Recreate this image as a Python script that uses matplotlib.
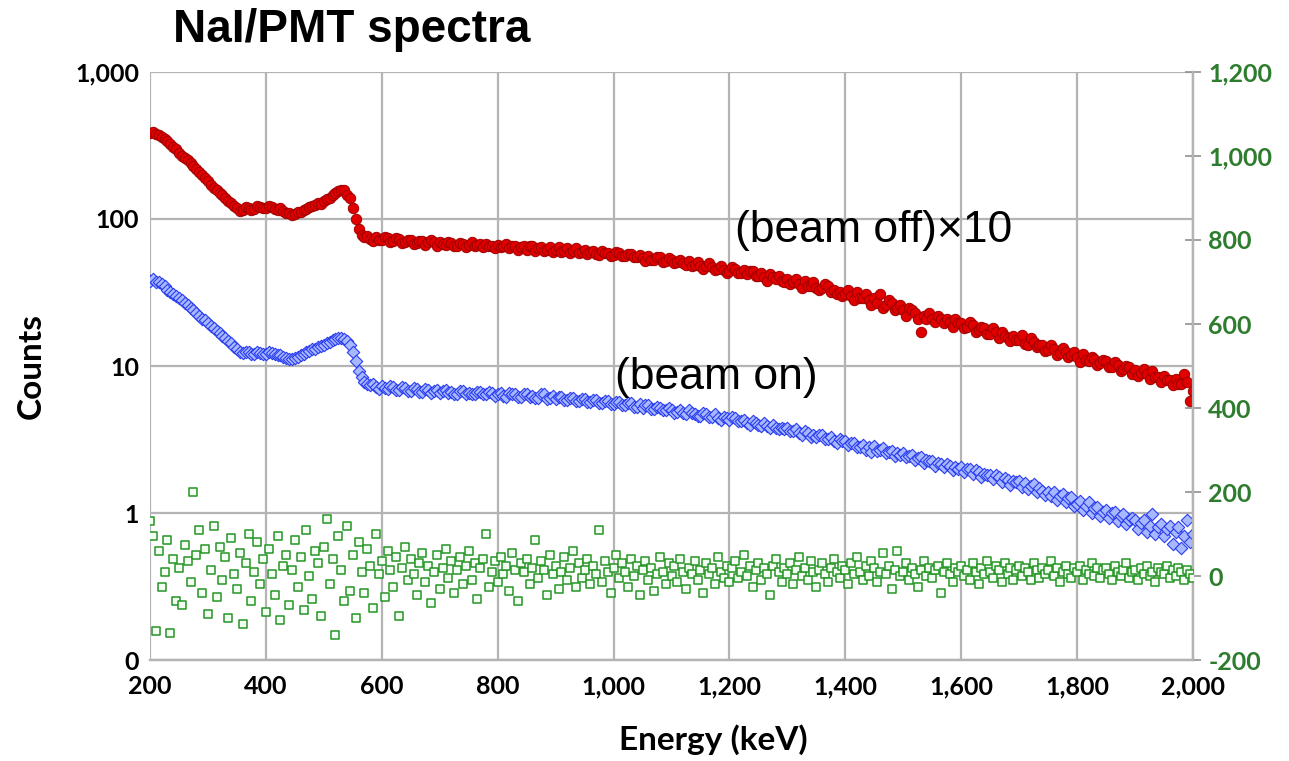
import numpy as np
import matplotlib
matplotlib.use('Agg')
import matplotlib.pyplot as plt
from matplotlib.ticker import FixedLocator, FixedFormatter, NullLocator

# energy grid (5 keV bins) shared by all three series
energy = np.arange(200, 2001, 5)

# (beam off) x 10, counts
beam_off_x10 = [
    385, 390, 378, 372, 362, 352, 340, 326, 310, 298,
    283, 270, 258, 250, 240, 228, 218, 208, 198, 190,
    180, 171, 163, 157, 150, 145, 140, 133, 128, 122,
    118, 114, 115, 120, 119, 116, 117, 122, 121, 118,
    119, 123, 120, 117, 116, 119, 113, 110, 109, 106,
    108, 111, 112, 115, 117, 120, 122, 125, 128, 126,
    133, 136, 140, 145, 150, 154, 157, 158, 146, 138,
    118, 100, 86, 78, 75, 77, 73, 71, 76, 72,
    72, 75, 74, 70, 71, 74, 73, 69, 70, 72,
    72, 68, 69, 71, 71, 67, 70, 72, 70, 66,
    70, 68, 67, 70, 69, 65, 66, 69, 68, 64,
    67, 70, 65, 67, 68, 64, 68, 65, 66, 63,
    67, 64, 65, 68, 63, 66, 66, 62, 64, 65,
    62, 65, 65, 61, 63, 64, 61, 62, 64, 60,
    62, 64, 60, 61, 63, 59, 61, 63, 59, 60,
    62, 58, 60, 61, 58, 57, 61, 59, 59, 56,
    57, 60, 59, 56, 56, 58, 58, 55, 55, 57,
    54, 52, 56, 53, 53, 55, 55, 51, 52, 54,
    53, 50, 51, 53, 50, 49, 52, 48, 49, 51,
    48, 46, 48, 50, 47, 45, 46, 48, 45, 43,
    44, 47, 46, 43, 43, 45, 42, 44, 44, 41,
    41, 43, 40, 38, 42, 40, 39, 41, 38, 37,
    39, 36, 37, 39, 36, 34, 38, 35, 35, 37,
    34, 33, 34, 36, 35, 32, 33, 31, 32, 30,
    31, 33, 30, 28, 32, 29, 29, 31, 28, 26,
    29, 27, 31, 25, 26, 28, 27, 24, 25, 26,
    24, 22, 25, 24, 23, 21, 17, 22, 21, 23,
    21, 20, 22, 21, 19.5, 21, 20, 18.5, 21, 19.5,
    19.5, 18, 18.5, 20, 19, 17, 17.5, 18.5, 18, 16.5,
    16.5, 18, 17, 15.5, 17, 16, 15.5, 14.8, 16, 15,
    15, 16.2, 14.2, 13.8, 15.5, 14.5, 13.5, 14, 13.8, 12.6,
    12.8, 14, 13, 11.8, 12.2, 13.2, 12.5, 11.6, 11.8, 12.4,
    11.5, 10.6, 12, 11, 10.8, 11.6, 11.2, 10.2, 10.5, 11,
    10.8, 9.8, 9.8, 10.6, 10.2, 9.2, 9.5, 10, 9.8, 8.8,
    9.4, 8.6, 9, 9.6, 8.8, 8.2, 9.2, 8.4, 8.4, 7.8,
    8.6, 8, 8, 7.4, 8.2, 7.6, 7.6, 8.8, 7.8, 5.8,
    6.8,
]

# (beam on), counts
beam_on = [
    38, 39, 37.5, 37, 36, 35, 33, 32, 31, 30,
    29, 28, 27, 26, 25, 24, 23, 22, 21, 20.5,
    19.5, 18.8, 18, 17.3, 16.7, 16, 15.5, 14.8, 14.3, 13.5,
    13, 12.4, 12.2, 12.5, 12.4, 12.1, 12, 12.4, 12.3, 12,
    12.1, 12.4, 12.3, 12, 11.8, 11.9, 11.6, 11.3, 11.2, 11.1,
    11.4, 11.6, 11.9, 12.1, 12.4, 12.7, 13, 13.1, 13.4, 13.7,
    14, 14.3, 14.6, 15, 15.3, 15.6, 15.6, 15.2, 14.8, 13.8,
    12.5, 10.8, 9.3, 8.4, 7.8, 7.5, 7.4, 7.6, 7.2, 7.0,
    7.3, 7.1, 7.0, 7.3, 7.2, 6.9, 6.9, 7.2, 7.1, 6.8,
    6.8, 7.1, 7.0, 6.7, 6.7, 7.0, 6.9, 6.6, 6.8, 6.9,
    6.6, 6.8, 6.9, 6.6, 6.7, 6.5, 6.5, 6.8, 6.8, 6.5,
    6.6, 6.4, 6.4, 6.7, 6.7, 6.4, 6.5, 6.7, 6.6, 6.3,
    6.5, 6.6, 6.3, 6.2, 6.6, 6.5, 6.4, 6.2, 6.2, 6.5,
    6.5, 6.2, 6.3, 6.1, 6.1, 6.4, 6.4, 6.0, 6.1, 6.3,
    6.0, 6.2, 6.2, 5.9, 5.9, 6.1, 6.1, 5.8, 5.8, 6.0,
    6.0, 5.7, 5.7, 5.9, 5.9, 5.6, 5.6, 5.8, 5.8, 5.5,
    5.5, 5.7, 5.7, 5.4, 5.4, 5.6, 5.6, 5.3, 5.3, 5.5,
    5.2, 5.4, 5.4, 5.1, 5.1, 5.3, 5.2, 5.0, 5.0, 5.2,
    5.0, 4.8, 4.9, 5.0, 4.8, 4.7, 5.0, 4.8, 4.7, 4.6,
    4.6, 4.8, 4.7, 4.5, 4.5, 4.7, 4.4, 4.3, 4.5, 4.4,
    4.3, 4.5, 4.4, 4.2, 4.2, 4.3, 4.1, 4.0, 4.2, 4.1,
    4.0, 3.9, 4.1, 3.9, 3.8, 4.0, 3.8, 3.7, 3.8, 3.7,
    3.8, 3.6, 3.6, 3.7, 3.5, 3.4, 3.6, 3.5, 3.3, 3.4,
    3.3, 3.4, 3.4, 3.2, 3.2, 3.3, 3.1, 3.0, 3.2, 3.1,
    3.1, 2.9, 3.0, 3.0, 2.8, 2.8, 2.9, 2.7, 2.8, 2.6,
    2.85, 2.65, 2.7, 2.75, 2.55, 2.6, 2.65, 2.45, 2.55, 2.5,
    2.55, 2.4, 2.45, 2.5, 2.3, 2.35, 2.4, 2.2, 2.3, 2.25,
    2.25, 2.1, 2.2, 2.15, 2.05, 2.15, 2.1, 1.95, 2.05, 2.0,
    2.05, 1.9, 2.0, 2.0, 1.85, 1.95, 1.9, 1.75, 1.85, 1.8,
    1.82, 1.7, 1.8, 1.75, 1.62, 1.72, 1.68, 1.55, 1.65, 1.62,
    1.65, 1.5, 1.6, 1.45, 1.52, 1.58, 1.4, 1.48, 1.42, 1.32,
    1.4, 1.3, 1.38, 1.22, 1.3, 1.35, 1.18, 1.26, 1.28, 1.12,
    1.15, 1.2, 1.05, 1.12, 1.18, 1.0, 1.08, 1.1, 0.95, 1.02,
    1.05, 0.92, 1.0, 1.02, 0.88, 0.95, 0.98, 0.84, 0.9, 0.93,
    0.9, 0.78, 0.86, 0.9, 0.74, 0.82, 0.98, 0.72, 0.8, 0.84,
    0.7, 0.78, 0.82, 0.62, 0.74, 0.8, 0.58, 0.7, 0.9, 0.64,
    0.72,
]

# difference (right axis)
difference = [
    130, 95, -130, 60, -25, 10, 85, -135, 40, -60,
    20, -70, 75, 35, -15, 200, 50, 110, -40, 65,
    -90, 15, 120, -50, 70, -10, 45, -100, 90, 5,
    -30, 55, -115, 30, 100, -60, 10, 80, -20, 40,
    -85, 65, 5, -45, 95, -105, 25, 50, -70, 15,
    85, -25, 45, -80, 110, 0, -55, 60, 30, -95,
    70, 135, -20, 40, -140, 95, 15, -60, 120, -35,
    50, -100, 80, 10, -40, 65, 25, -75, 100, 5,
    35, -50, 60, 15, -25, 45, -95, 20, 70, -10,
    40, 5, -45, 30, 55, -15, 25, -65, 10, 50,
    -30, 20, 65, -5, 35, -40, 15, 45, -20, 25,
    60, -10, 30, -55, 20, 40, 100, -25, 10, 35,
    -15, 45, 5, 25, -35, 55, 15, -60, 30, 10,
    40, -20, 20, 85, -5, 35, 15, -45, 50, 5,
    25, -30, 10, 45, -10, 20, 60, -25, 30, -5,
    15, 40, -20, 25, 5, 110, -15, 35, 10, -40,
    20, 50, -5, 30, 10, -25, 40, 0, 25, -45,
    15, 35, -10, 20, -35, 5, 45, 10, -20, 30,
    0, 25, -15, 40, 10, -30, 20, 5, 35, -10,
    15, -40, 30, 5, 20, -20, 45, 10, -5, 25,
    -15, 20, 35, -5, 10, 50, 0, 25, -25, 15,
    30, -10, 20, 5, -45, 25, 40, 10, -15, 20,
    5, 30, -20, 15, 45, 0, 20, -10, 35, 10,
    -25, 15, 30, 5, -15, 20, 40, 10, -5, 25,
    15, -20, 30, 5, 45, 10, -10, 25, 0, 35,
    20, -15, 10, 55, 5, 25, -30, 15, 60, 0,
    10, 30, -10, 20, 5, -25, 15, 35, 0, 20,
    -5, 15, 25, -40, 10, 30, 5, -15, 20, 10,
    25, 0, 15, -10, 30, 10, -20, 20, 5, 35,
    10, -5, 25, 15, -15, 30, 5, 20, -10, 15,
    25, 0, 20, 10, -10, 30, 15, -5, 20, 5,
    15, 35, 0, 20, -15, 10, 25, 5, -5, 20,
    10, 25, -10, 15, 5, 30, 0, 20, -5, 15,
    20, 5, -10, 25, 10, 0, 15, 30, -5, 10,
    15, -10, 20, 5, 25, 0, 10, -15, 20, 10,
    5, 25, -5, 15, 0, 20, 10, -10, 15, 5,
    -5,
]

x_ticks = [200, 400, 600, 800, 1000, 1200, 1400, 1600, 1800, 2000]
x_labels = ['200', '400', '600', '800', '1,000', '1,200', '1,400', '1,600', '1,800', '2,000']
y_ticks = [0.1, 1, 10, 100, 1000]
y_labels = ['0', '1', '10', '100', '1,000']
y2_ticks = [-200, 0, 200, 400, 600, 800, 1000, 1200]
y2_labels = ['-200', '0', '200', '400', '600', '800', '1,000', '1,200']

GRID = '#b4b4b4'


def main():
    fig = plt.figure(figsize=(12.89, 7.61), dpi=100)
    ax = fig.add_axes([0.1164, 0.1327, 0.8091, 0.7727])
    ax2 = ax.twinx()

    ax.set_yscale('log')
    ax.set_xlim(200, 2000)
    ax.set_ylim(0.1, 1000)
    ax2.set_ylim(-200, 1200)

    ax.scatter(energy, beam_off_x10, s=56, marker='o', facecolor='#e00000',
               edgecolor='#a00000', linewidth=0.7, zorder=3)
    ax.scatter(energy, beam_on, s=40, marker='D', facecolor='#a8b8ff',
               edgecolor='#2a3df0', linewidth=0.8, zorder=3)
    ax2.scatter(energy, difference, s=34, marker='s', facecolor='#f4fff4',
                edgecolor='#259525', linewidth=1.1, zorder=3)

    ax.xaxis.set_major_locator(FixedLocator(x_ticks))
    ax.xaxis.set_major_formatter(FixedFormatter(x_labels))
    ax.yaxis.set_major_locator(FixedLocator(y_ticks))
    ax.yaxis.set_major_formatter(FixedFormatter(y_labels))
    ax.yaxis.set_minor_locator(NullLocator())
    ax2.yaxis.set_major_locator(FixedLocator(y2_ticks))
    ax2.yaxis.set_major_formatter(FixedFormatter(y2_labels))

    ax.grid(True, color=GRID, linewidth=1.6)
    ax.set_axisbelow(True)
    for side in ['top', 'left']:
        ax.spines[side].set_visible(False)
        ax2.spines[side].set_visible(False)
    for side in ['bottom', 'right']:
        ax.spines[side].set_color(GRID)
        ax2.spines[side].set_color(GRID)
        ax.spines[side].set_linewidth(1.6)
        ax2.spines[side].set_linewidth(1.6)

    ax.tick_params(axis='x', length=0, pad=11)
    ax.tick_params(axis='y', length=0, pad=8)
    ax2.tick_params(axis='y', direction='inout', length=12, width=1.2,
                    color='#909090', pad=5, labelcolor='#2e7d2e')
    for lab in ax.get_xticklabels() + ax.get_yticklabels() + ax2.get_yticklabels():
        lab.set_fontfamily('Lato')
        lab.set_fontweight('bold')
        lab.set_fontsize(18)

    ax.set_xlabel('Energy (keV)', family='Lato', weight='bold', size=24)
    ax.xaxis.set_label_coords(0.54, -0.11)
    ax.set_ylabel('Counts', family='Lato', weight='bold', size=24)
    ax.yaxis.set_label_coords(-0.10, 0.5)

    fig.text(0.134, 0.961, 'NaI/PMT spectra', family='Liberation Sans', weight='bold',
             size=33, ha='left', va='center')
    ax.text(1448, 83, '(beam off)\u00d710', family='Liberation Sans', size=32,
            ha='center', va='center')
    ax.text(1177, 8.4, '(beam on)', family='Liberation Sans', size=32,
            ha='center', va='center')

    fig.savefig('out.png', dpi=100)
    plt.close(fig)


if __name__ == '__main__':
    main()
